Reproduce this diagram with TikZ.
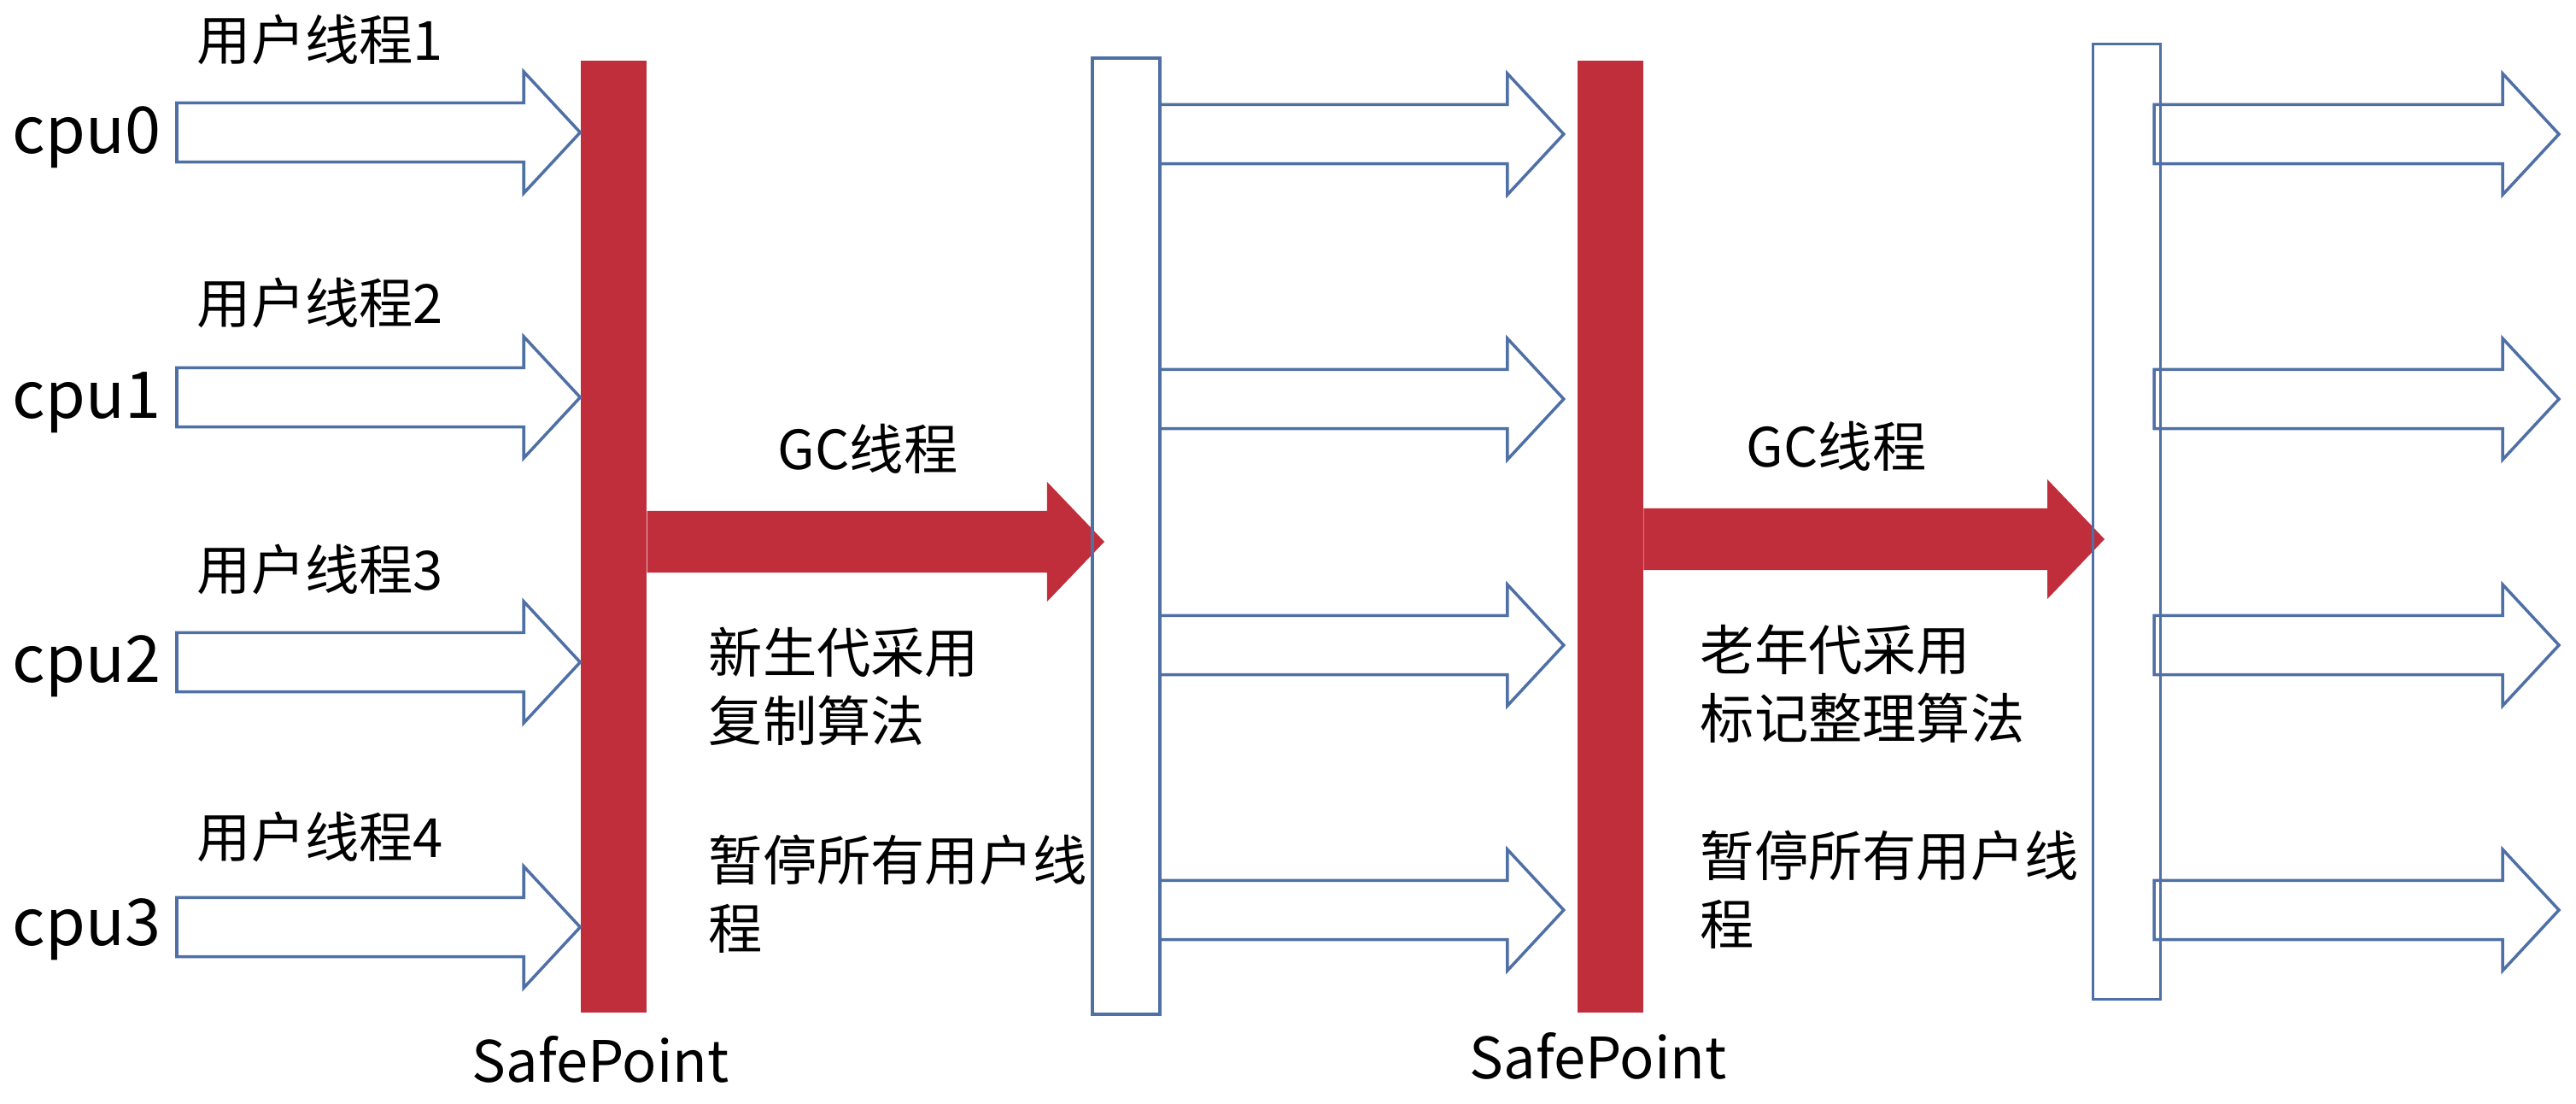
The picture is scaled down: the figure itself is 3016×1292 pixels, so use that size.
\documentclass[tikz,border=0pt]{standalone}
\usepackage{fontspec}
\setmainfont{Noto Sans CJK SC}
\usetikzlibrary{calc}
\definecolor{barred}{RGB}{193,46,59}
\definecolor{lineblue}{RGB}{79,112,165}
\tikzset{
  thread arrow/.style={draw=lineblue, line width=1pt,
    to path={let \p1=(\tikztostart), \p2=(\tikztotarget) in
      (\x1,\y1+0.345cm) -- (\x2-0.66cm,\y1+0.345cm) -- (\x2-0.66cm,\y1+0.71cm)
      -- (\x2,\y1) -- (\x2-0.66cm,\y1-0.71cm) -- (\x2-0.66cm,\y1-0.345cm)
      -- (\x1,\y1-0.345cm) -- cycle}},
  gc arrow/.style={fill=barred, draw=none,
    to path={let \p1=(\tikztostart), \p2=(\tikztotarget) in
      (\x1,\y1+0.36cm) -- (\x2-0.67cm,\y1+0.36cm) -- (\x2-0.67cm,\y1+0.70cm)
      -- (\x2,\y1) -- (\x2-0.67cm,\y1-0.70cm) -- (\x2-0.67cm,\y1-0.36cm)
      -- (\x1,\y1-0.36cm) -- cycle}},
  safepoint/.style={fill=barred, draw=none, minimum width=0.77cm, minimum height=11.14cm},
  stopbar/.style={draw=lineblue, line width=1pt, minimum width=0.79cm, minimum height=11.18cm},
  txt/.style={inner sep=0pt, font=\fontsize{18}{22.7}\selectfont, align=left},
  cpu/.style={inner sep=0pt, font=\fontsize{21.5}{26}\selectfont}
}
\begin{document}
\begin{tikzpicture}[x=0.01cm, y=-0.01cm]
\useasboundingbox (0,0) rectangle (3016,1292);

% cpus and user threads
\node[cpu, anchor=base west] (cpu0) at (14,180) {cpu0};
\node[cpu, anchor=base west] (cpu1) at (14,490) {cpu1};
\node[cpu, anchor=base west] (cpu2) at (14,798) {cpu2};
\node[cpu, anchor=base west] (cpu3) at (14,1106) {cpu3};

\node[txt, anchor=west] (u1) at (230,46) {用户线程1};
\node[txt, anchor=west] (u2) at (230,354) {用户线程2};
\node[txt, anchor=west] (u3) at (230,666) {用户线程3};
\node[txt, anchor=west] (u4) at (230,979) {用户线程4};

% safepoints
\node[safepoint] (sp1) at (718.5,628) {};
\node[safepoint] (sp2) at (1885,628) {};
\node[txt, font=\fontsize{19}{23}\selectfont, anchor=base] (spl1) at (703,1266) {SafePoint};
\node[txt, font=\fontsize{19}{23}\selectfont, anchor=base] (spl2) at (1871,1262) {SafePoint};

% gc threads
\coordinate (t1) at (1293,634);
\coordinate (t2) at (2464,631);
\fill[gc arrow] (sp1.east |- t1) to (t1);
\fill[gc arrow] (sp2.east |- t2) to (t2);

\node[txt] (gc1) at (1016,525) {GC线程};
\node[txt] (gc2) at (2150,522) {GC线程};
\node[txt, anchor=west] (young) at (829,803) {新生代采用\\复制算法};
\node[txt, anchor=west] (pause1) at (829,1046) {暂停所有用户线\\程};
\node[txt, anchor=west] (old) at (1990,800) {老年代采用\\标记整理算法};
\node[txt, anchor=west] (pause2) at (1990,1041) {暂停所有用户线\\程};

% stop bars
\node[stopbar] (wb1) at (1318.5,627.5) {};
\node[stopbar, minimum height=11.17cm] (wb2) at (2490,610.5) {};

% user thread arrows
\coordinate (s0) at (207,155);
\coordinate (s1) at (207,465);
\coordinate (s2) at (207,775);
\coordinate (s3) at (207,1085);
\draw[thread arrow] (s0) to (sp1.west);
\draw[thread arrow] (s1) to (sp1.west);
\draw[thread arrow] (s2) to (sp1.west);
\draw[thread arrow] (s3) to (sp1.west);

\coordinate (m0) at (1358,157);
\coordinate (m1) at (1358,467);
\coordinate (m2) at (1358,755);
\coordinate (m3) at (1358,1065);
\draw[thread arrow] (m0) to ([xshift=-0.15cm]sp2.west);
\draw[thread arrow] (m1) to ([xshift=-0.15cm]sp2.west);
\draw[thread arrow] (m2) to ([xshift=-0.15cm]sp2.west);
\draw[thread arrow] (m3) to ([xshift=-0.15cm]sp2.west);

\coordinate (r0) at (2522,157);
\coordinate (r1) at (2522,467);
\coordinate (r2) at (2522,755);
\coordinate (r3) at (2522,1065);
\coordinate (e0) at (2996,157);
\coordinate (e1) at (2996,467);
\coordinate (e2) at (2996,755);
\coordinate (e3) at (2996,1065);
\draw[thread arrow] (r0) to (e0);
\draw[thread arrow] (r1) to (e1);
\draw[thread arrow] (r2) to (e2);
\draw[thread arrow] (r3) to (e3);
\end{tikzpicture}
\end{document}
